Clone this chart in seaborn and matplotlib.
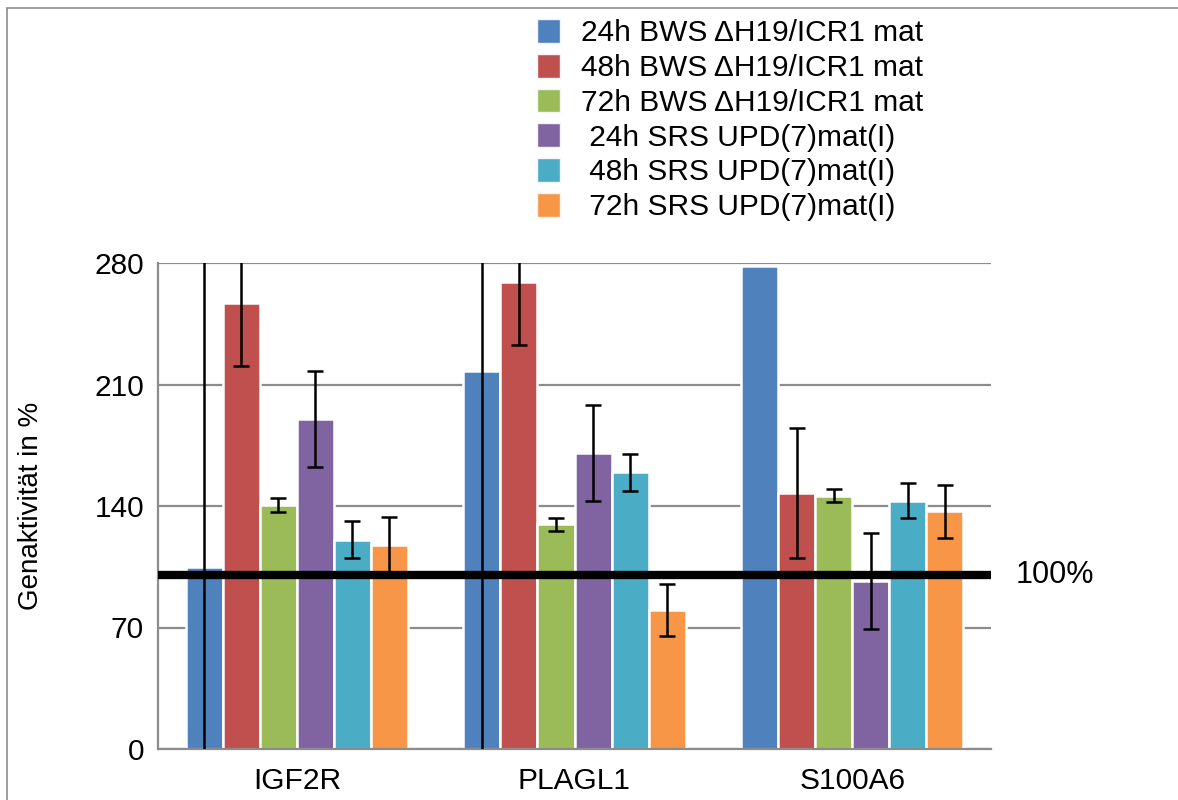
import matplotlib
matplotlib.use("Agg")
import matplotlib.pyplot as plt
import matplotlib.transforms as mtransforms
from matplotlib.patches import Patch, Rectangle
import seaborn as sns
import pandas as pd
import numpy as np

genes = ["IGF2R", "PLAGL1", "S100A6"]
series = ["24h BWS ΔH19/ICR1 mat", "48h BWS ΔH19/ICR1 mat", "72h BWS ΔH19/ICR1 mat",
          " 24h SRS UPD(7)mat(I)", " 48h SRS UPD(7)mat(I)", " 72h SRS UPD(7)mat(I)"]
colors = ["#4F81BD", "#C0504D", "#9BBB59", "#8064A2", "#4BACC6", "#F79646"]

values_24h_bws = [105.0, 218.0, 278.5]
values_48h_bws = [257.0, 269.0, 147.5]
values_72h_bws = [140.5, 129.5, 146.0]
values_24h_srs = [190.0, 170.5, 97.0]
values_48h_srs = [120.5, 159.5, 143.0]
values_72h_srs = [117.5, 80.0, 137.0]

err_24h_bws = [220.0, 250.0, np.nan]
err_48h_bws = [36.5, 36.5, 37.5]
err_72h_bws = [4.2, 3.8, 3.7]
err_24h_srs = [27.7, 27.6, 27.6]
err_48h_srs = [10.7, 10.7, 10.2]
err_72h_srs = [16.0, 15.0, 15.3]

all_values = [values_24h_bws, values_48h_bws, values_72h_bws,
              values_24h_srs, values_48h_srs, values_72h_srs]
all_errs = [err_24h_bws, err_48h_bws, err_72h_bws,
            err_24h_srs, err_48h_srs, err_72h_srs]

yticks = [0, 70, 140, 210, 280]

rows = []
for s, vals in zip(series, all_values):
    for g, v in zip(genes, vals):
        rows.append({"gene": g, "series": s, "value": v})
df = pd.DataFrame(rows)

sns.set_theme(style="white")
plt.rcParams["font.family"] = ["Liberation Sans", "DejaVu Sans"]
plt.rcParams["text.color"] = "black"
plt.rcParams["axes.labelcolor"] = "black"
plt.rcParams["xtick.color"] = "black"
plt.rcParams["ytick.color"] = "black"

fig = plt.figure(figsize=(11.78, 8.0), dpi=100)
ax = fig.add_axes([158 / 1178, 1 - 749 / 800, (991 - 158) / 1178, (749 - 263) / 800])

sns.barplot(data=df, x="gene", y="value", hue="series", order=genes, hue_order=series,
            palette=colors, width=0.8, edgecolor="white", linewidth=1.8,
            errorbar=None, legend=False, ax=ax, zorder=2, saturation=1)

ax.axhline(100, color="black", lw=6, zorder=3, solid_capstyle="butt")

for cont, errs in zip(ax.containers, all_errs):
    for bar, e in zip(cont, errs):
        if np.isnan(e):
            continue
        x = bar.get_x() + bar.get_width() / 2
        y = bar.get_height()
        ax.errorbar(x, y, yerr=e, fmt="none", ecolor="black", elinewidth=1.8,
                    capsize=6, capthick=1.8, zorder=4)

ax.set_ylim(0, 280)
ax.set_xlim(-0.5, 2.5)
ax.set_yticks(yticks)
ax.set_yticklabels([str(t) for t in yticks], fontsize=21.5)
ax.yaxis.grid(True, color="#8c8c8c", lw=1.6, zorder=0)
ax.set_axisbelow(True)
ax.set_xlabel("")
ax.set_ylabel("Genaktivität in %", fontsize=20, labelpad=36)

ax.set_xticks([0, 1, 2])
ax.set_xticklabels(genes, fontsize=21.5)
ax.set_xticks([-0.5, 0.5, 1.5, 2.5], minor=True)
ax.tick_params(axis="x", which="major", length=0, pad=13, colors="black")
ax.tick_params(axis="x", which="minor", length=7, width=1.6, color="#8c8c8c", direction="out")
ax.tick_params(axis="y", length=6, width=1.6, color="#8c8c8c", labelcolor="black",
               direction="out", pad=4)

for side in ["top", "right"]:
    ax.spines[side].set_visible(False)
for side in ["left", "bottom"]:
    ax.spines[side].set_color("#8c8c8c")
    ax.spines[side].set_linewidth(1.6)

trans = mtransforms.blended_transform_factory(ax.transAxes, ax.transData)
ax.text(1.03, 100, "100%", transform=trans, fontsize=22, va="center", ha="left", color="black")

handles = [Patch(facecolor=c, edgecolor="#f4f4f4", lw=1) for c in colors]
fig.legend(handles, series, loc="upper left", bbox_to_anchor=(516 / 1178, 1 + 2 / 800),
           frameon=False, fontsize=21.5, handlelength=0.78, handleheight=0.85,
           handletextpad=0.7, labelspacing=0.22, borderpad=0.2)

fig.add_artist(Rectangle((7 / 1178, -0.2), 1.3, 1.2 - 8 / 800, transform=fig.transFigure,
                         fill=False, edgecolor="#8c8c8c", lw=1.2))

fig.savefig("out.png", dpi=100)
